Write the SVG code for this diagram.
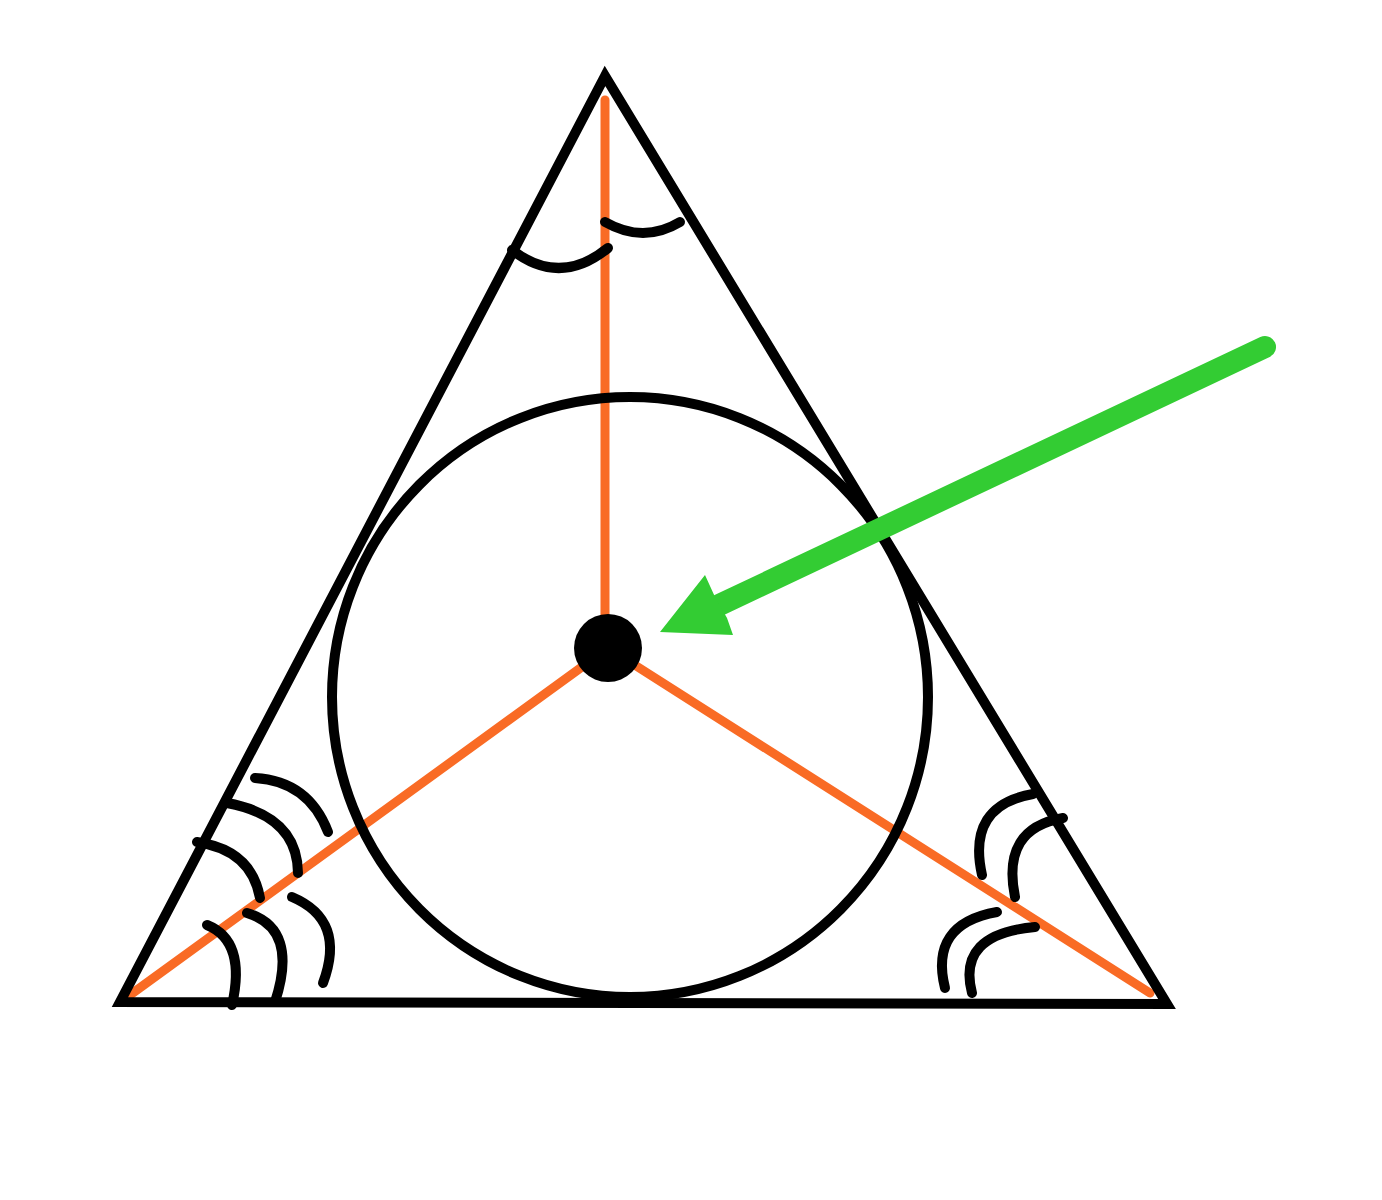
<svg xmlns="http://www.w3.org/2000/svg" width="1382" height="1200" viewBox="0 0 1382 1200">
<style>
.blk{fill:none;stroke:#000;stroke-width:10;stroke-linecap:round;stroke-linejoin:miter}
.arc{fill:none;stroke:#000;stroke-width:10;stroke-linecap:round}
.org{fill:none;stroke:#F96B25;stroke-width:9;stroke-linecap:round}
</style>
<rect width="1382" height="1200" fill="#fff"/>
<g id="bisectors">
<line class="org" x1="605" y1="100" x2="605" y2="640"/>
<line class="org" x1="608" y1="648" x2="130" y2="995"/>
<line class="org" x1="608" y1="648" x2="1150" y2="993"/>
</g>
<g id="triangle">
<polygon class="blk" points="605,76 120,1002 1167,1004"/>
</g>
<g id="incircle">
<ellipse class="blk" cx="630" cy="697" rx="298" ry="300"/>
</g>
<g id="angle-marks">
<path class="arc" d="M512,250 Q560,287 608,248"/>
<path class="arc" d="M605,222 Q643.5,244 680,222"/>
<path class="arc" d="M255,778 Q308.5,781 328,832"/>
<path class="arc" d="M227,803 Q297.5,816 298,873"/>
<path class="arc" d="M197,842 Q251.5,850 260,898"/>
<path class="arc" d="M207,925 Q246.5,941 232,1005"/>
<path class="arc" d="M247,913 Q299,928.5 275,1002"/>
<path class="arc" d="M292,897 Q346.5,920 323,983"/>
<path class="arc" d="M982,875 Q966.5,805.5 1033,794"/>
<path class="arc" d="M1015,897 Q1001,828.5 1063,818"/>
<path class="arc" d="M945,988 Q929,924 997,912"/>
<path class="arc" d="M972,993 Q956.5,934 1035,927"/>
</g>
<g id="incenter">
<circle cx="608" cy="648" r="34" fill="#000"/>
</g>
<g id="arrow">
<line x1="1265" y1="347" x2="715" y2="607" stroke="#33CC33" stroke-width="22" stroke-linecap="round"/>
<polygon points="660,632 705,575 715,597 727,618 733,635" fill="#33CC33"/>
</g>
</svg>
